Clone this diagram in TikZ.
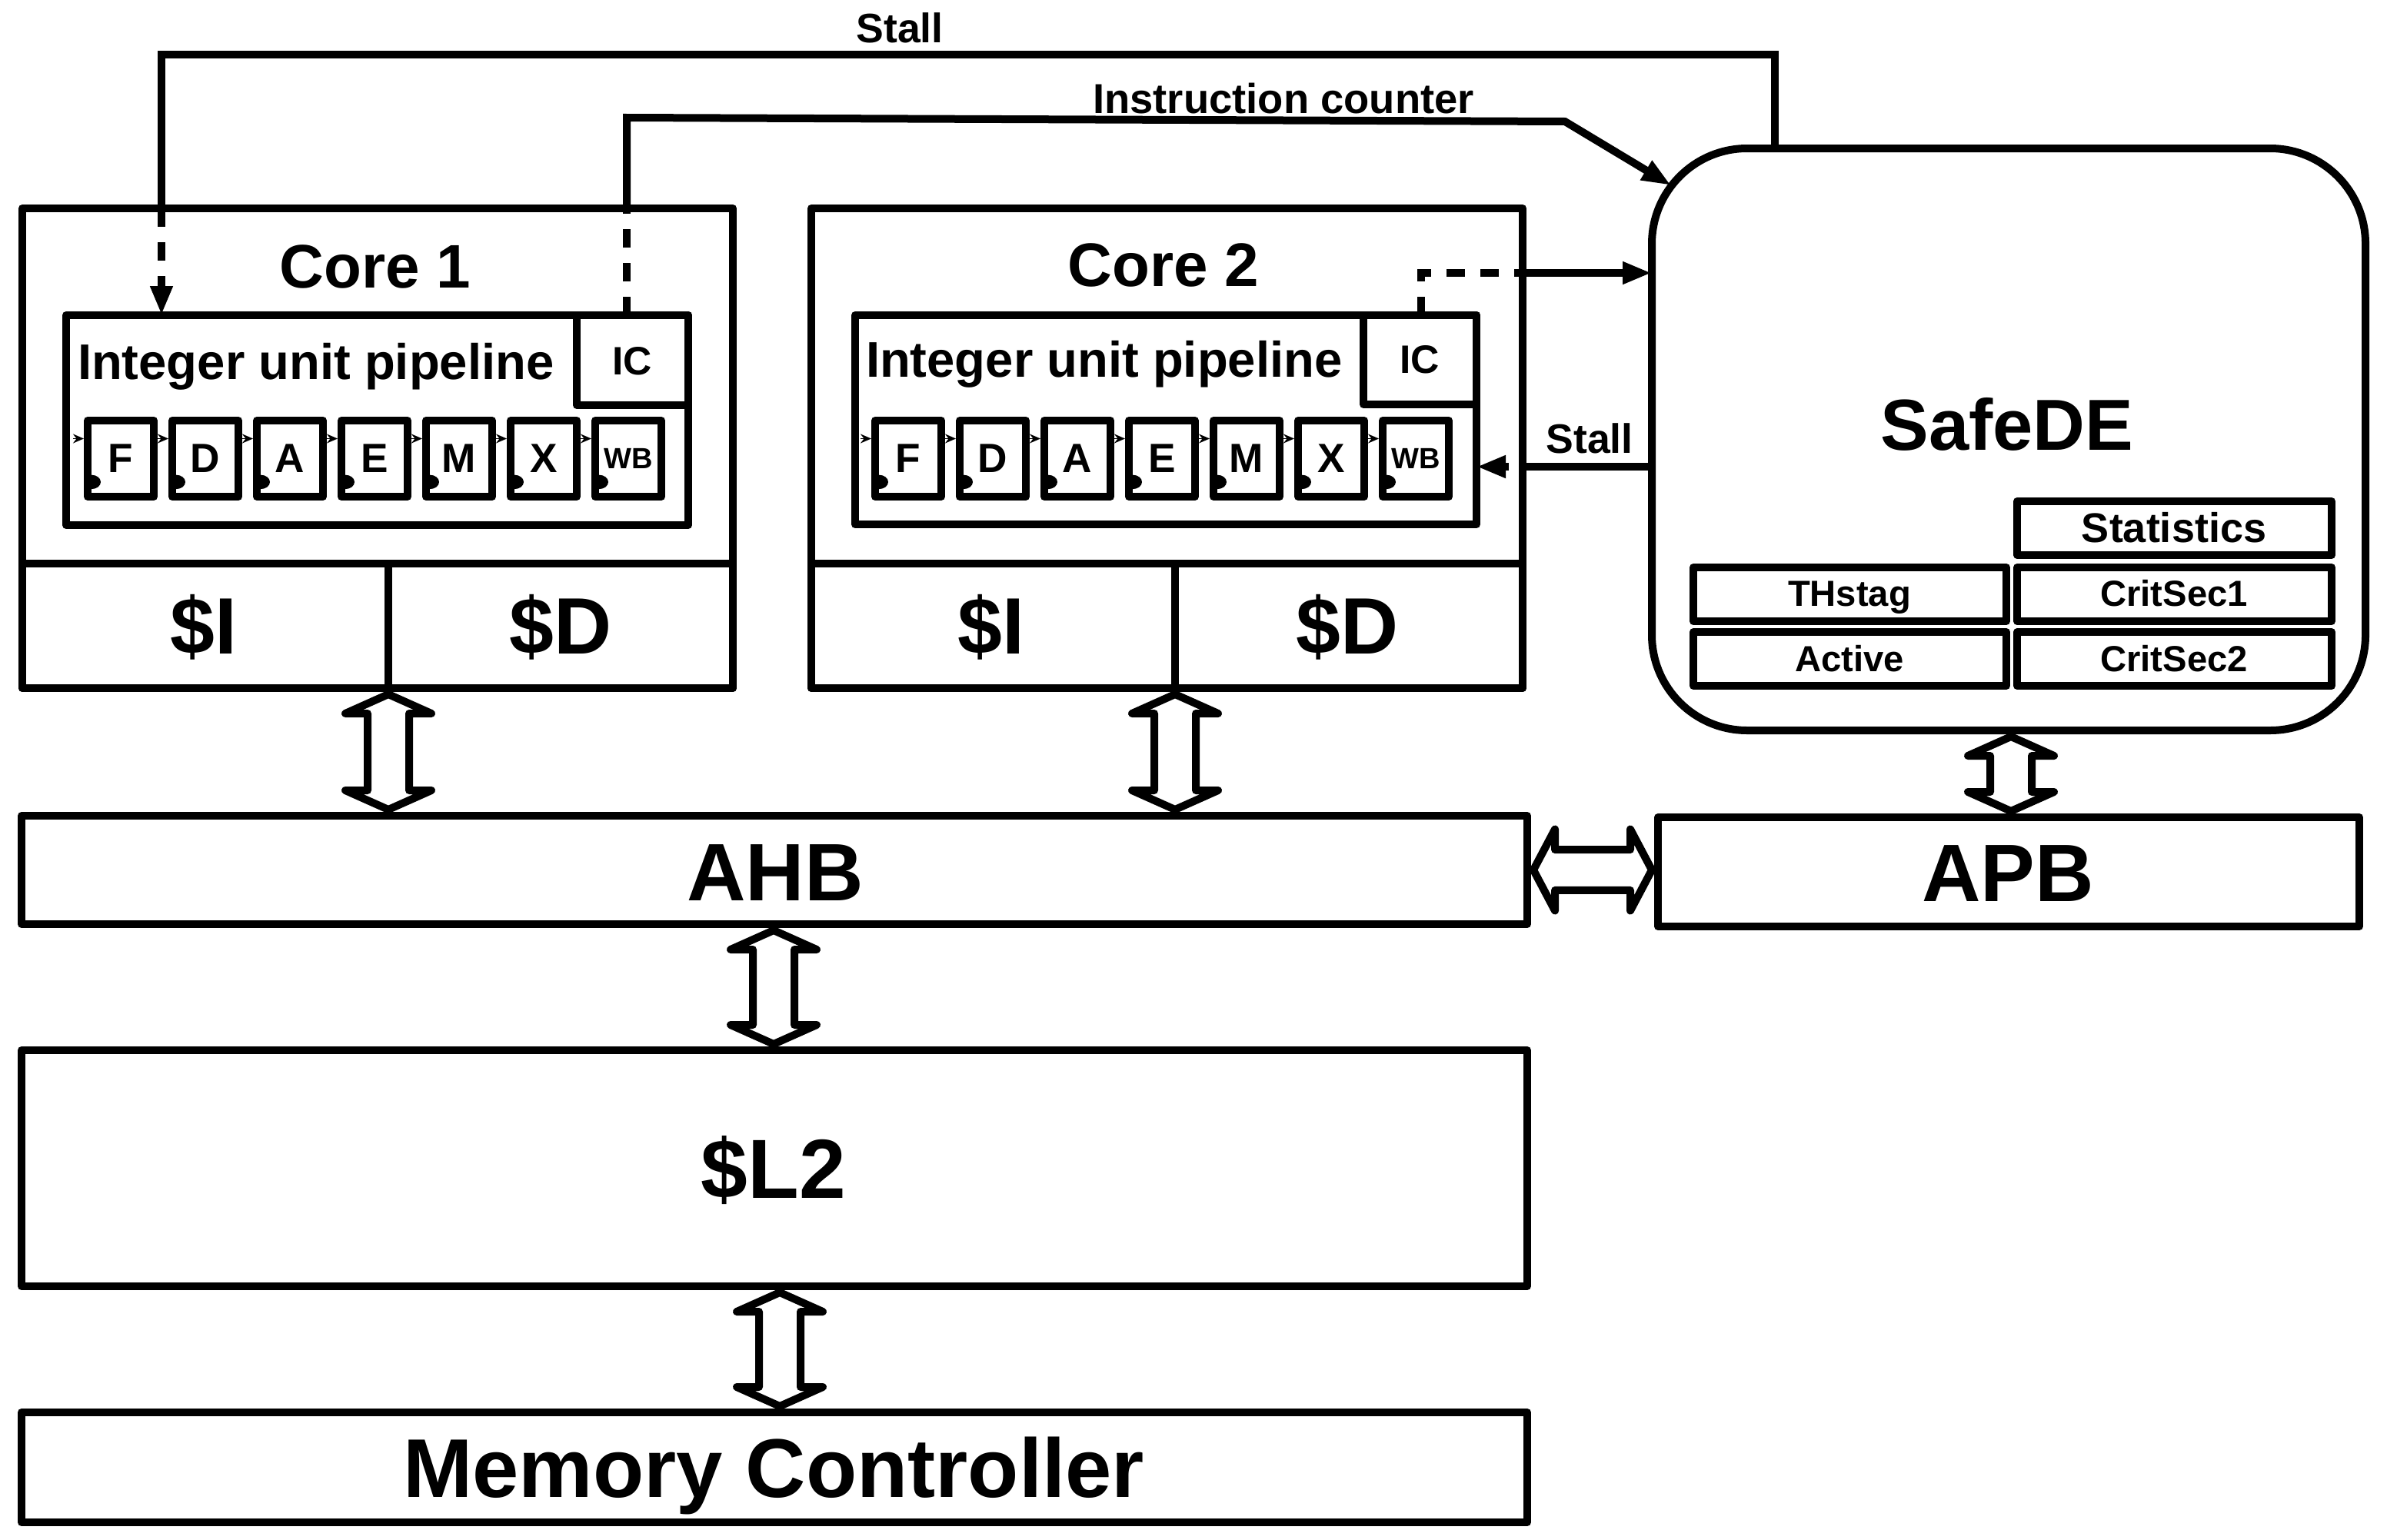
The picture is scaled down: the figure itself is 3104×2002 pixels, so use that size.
\documentclass[tikz,border=0pt]{standalone}
\usepackage{fontspec}
\setmainfont{Liberation Sans}
\usetikzlibrary{fit,arrows.meta,calc}
\tikzset{
  box/.style={draw, line width=2.5pt, inner sep=0pt, outer sep=0pt, line join=round},
  dblarrow/.style={draw, fill=white, line width=2.5pt, line join=round},
  conn/.style={line width=2.5pt, line join=miter},
  dashconn/.style={conn, dash pattern=on 6pt off 5pt},
  tip/.style={-{Triangle[length=9.5pt,width=6.8pt]}},
  thinarr/.style={line width=0.4pt, dash pattern=on 1.2pt off 0.8pt, -{Stealth[length=3.5pt,width=3pt]}},
  lbl/.style={inner sep=0pt, outer sep=0pt},
  fs/.style={font=\fontsize{#1}{#1}\selectfont\bfseries},
}
\newcommand\vdarrow[3]{%
  \path (#1,0) coordinate (vx);
  \draw[dblarrow] let \p1=($(vx |- #2.south)+(0,8)$), \p2=($(vx |- #3.north)+(0,-8)$) in
   (\x1,\y1) -- (\x1+14pt,\y1-6.25pt) -- (\x1+6.75pt,\y1-6.25pt) -- (\x1+6.75pt,\y2+6.25pt)
   -- (\x1+14pt,\y2+6.25pt) -- (\x1,\y2) -- (\x1-14pt,\y2+6.25pt) -- (\x1-6.75pt,\y2+6.25pt)
   -- (\x1-6.75pt,\y1-6.25pt) -- (\x1-14pt,\y1-6.25pt) -- cycle;}
\newcommand\hdarrow[2]{%
  \draw[dblarrow] let \p1=($(#1.east)+(8,0)$), \p2=($(#2.west |- #1.east)+(-8,0)$) in
   (\x1,\y1) -- (\x1+7pt,\y1+13.25pt) -- (\x1+7pt,\y1+6.6pt) -- (\x2-7pt,\y1+6.6pt)
   -- (\x2-7pt,\y1+13.25pt) -- (\x2,\y1) -- (\x2-7pt,\y1-13.25pt) -- (\x2-7pt,\y1-6.6pt)
   -- (\x1+7pt,\y1-6.6pt) -- (\x1+7pt,\y1-13.25pt) -- cycle;}
\newcommand\pipestages[2]{%
  \foreach \t/\s [count=\i from 0] in {F/13.3,D/13.3,A/13.3,E/13.3,M/13.3,X/13.3,WB/9.5} {
    \pgfmathsetmacro\lx{#2+110*\i}
    \pgfmathsetmacro\rx{\lx+86}
    \node[box, fit={(\lx,547)(\rx,646)}] (#1\t) {};
    \node[lbl, fs=\s] (#1\t lbl) at (#1\t.center) {\t};
    \draw[thinarr] ([xshift=-4.75pt,yshift=6.5pt]#1\t.west) -- ([xshift=-1.25pt,yshift=6.5pt]#1\t.west);
    \fill ([xshift=1.25pt,yshift=-5.3pt]#1\t.west) arc[start angle=90,end angle=-90,x radius=3pt,y radius=2.3pt] -- cycle;
  }}
\begin{document}
\begin{tikzpicture}[x=0.25pt,y=-0.25pt, line join=round]
\useasboundingbox (0,0) rectangle (3104,2002);
% ---- Core 1
\node[box, fit={(29,271)(953,895)}] (core1) {};
\node[box, fit={(29,733)(505,895)}] (ci1) {};
\node[box, fit={(505,733)(953,895)}] (cd1) {};
\node[box, fit={(86,410)(895,683)}] (pipe1) {};
\node[box, fit={(750,410)(895,527)}] (ic1) {};
\node[lbl, fs=20] (core1lbl) at (488,347) {Core 1};
\node[lbl, fs=16.3, anchor=base west] (int1) at (101,493) {Integer unit pipeline};
\node[lbl, fs=12.9] (ic1lbl) at (822,470) {IC};
\node[lbl, fs=26, anchor=base] (ci1lbl) at (265,850) {\$I};
\node[lbl, fs=26, anchor=base] (cd1lbl) at (729,850) {\$D};
\pipestages{a}{114}
% ---- Core 2
\node[box, fit={(1055,271)(1980,895)}] (core2) {};
\node[box, fit={(1055,733)(1528,895)}] (ci2) {};
\node[box, fit={(1528,733)(1980,895)}] (cd2) {};
\node[box, fit={(1112,410)(1920,682)}] (pipe2) {};
\node[box, fit={(1773,410)(1920,526)}] (ic2) {};
\node[lbl, fs=20] (core2lbl) at (1513,345) {Core 2};
\node[lbl, fs=16.3, anchor=base west] (int2) at (1126,490) {Integer unit pipeline};
\node[lbl, fs=12.9] (ic2lbl) at (1846,468) {IC};
\node[lbl, fs=26, anchor=base] (ci2lbl) at (1289,850) {\$I};
\node[lbl, fs=26, anchor=base] (cd2lbl) at (1752,850) {\$D};
\pipestages{b}{1138}
% ---- SafeDE
\node[box, rounded corners=31pt, fit={(2148,193)(3076,950)}] (safede) {};
\node[lbl, fs=23.5, anchor=base] (safelbl) at (2610,585) {SafeDE};
\node[box, fit={(2623,652)(3032,722)}] (stats) {};
\node[box, fit={(2202,738)(2609,808)}] (thstag) {};
\node[box, fit={(2623,738)(3032,808)}] (cs1) {};
\node[box, fit={(2202,822)(2609,892)}] (active) {};
\node[box, fit={(2623,822)(3032,892)}] (cs2) {};
\node[lbl, fs=13.5, anchor=base] at (2827,705) {Statistics};
\node[lbl, fs=11.8, anchor=base] at (2405,788) {THstag};
\node[lbl, fs=11.8, anchor=base] at (2827,788) {CritSec1};
\node[lbl, fs=11.8, anchor=base] at (2405,873) {Active};
\node[lbl, fs=11.8, anchor=base] at (2827,873) {CritSec2};
% ---- buses and memory
\node[box, fit={(28,1061)(1986,1202)}] (ahb) {};
\node[box, fit={(2156,1063)(3068,1205)}] (apb) {};
\node[box, fit={(28,1366)(1986,1673)}] (l2) {};
\node[box, fit={(28,1837)(1986,1980)}] (mc) {};
\node[lbl, fs=26.5, anchor=base] at (1008,1171) {AHB};
\node[lbl, fs=26.5, anchor=base] at (2611,1172) {APB};
\node[lbl, fs=27.3, anchor=base] at (1006,1558) {\$L2};
\node[lbl, fs=27.1, anchor=base] at (1006,1947) {Memory Controller};
% ---- double arrows
\vdarrow{505}{cd1}{ahb}
\vdarrow{1528}{cd2}{ahb}
\vdarrow{2615}{safede}{apb}
\vdarrow{1006}{ahb}{l2}
\vdarrow{1014}{l2}{mc}
\hdarrow{ahb}{apb}
% ---- stall to core 1
\coordinate (stA) at (2308,71);
\coordinate (stB) at (210,71);
\draw[conn] (stA |- safede.north) -- (stA) -- (stB) -- (stB |- core1.north);
\draw[dashconn, tip] (stB |- core1.north) -- (stB |- pipe1.north);
\node[lbl, fs=13.4, anchor=base] (stalllbl) at (1170,55) {Stall};
% ---- instruction counter from core 1
\coordinate (icA) at (815,153);
\coordinate (icB) at (2035,158);
\coordinate (icT) at (2173,241);
\draw[dashconn] (icA |- ic1.north) -- (icA |- core1.north);
\draw[conn, tip] (icA |- core1.north) -- (icA) -- (icB) -- (icT);
\node[lbl, fs=13.6, anchor=base] (iclbl) at (1669,147) {Instruction counter};
% ---- core 2 IC to SafeDE
\coordinate (ic2k) at (1848,355);
\draw[dashconn] (ic2k |- ic2.north) -- (ic2k) -- (core2.east |- ic2k);
\draw[conn, tip] (core2.east |- ic2k) -- (safede.west |- ic2k);
% ---- stall to core 2
\coordinate (st2a) at (1976,607);
\coordinate (st2b) at (1962,607);
\draw[conn] (safede.west |- st2a) -- (st2a);
\draw[conn, tip] (st2b) -- (pipe2.east |- st2b);
\node[lbl, fs=13.4, anchor=base] (stall2lbl) at (2067,589) {Stall};
\end{tikzpicture}
\end{document}
